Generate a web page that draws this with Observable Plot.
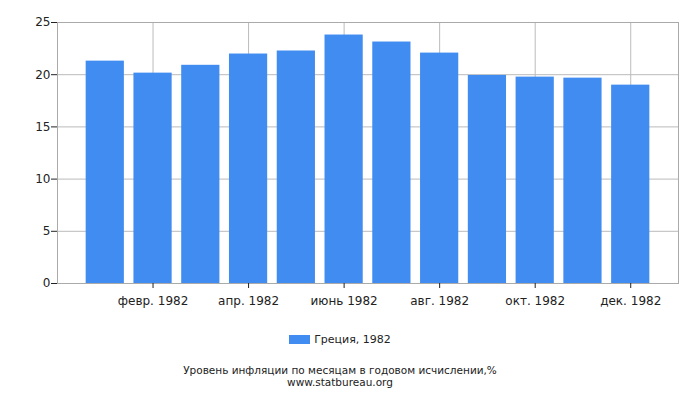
<!DOCTYPE html>
<html><head><meta charset="utf-8">
<script src="https://cdn.jsdelivr.net/npm/d3@7"></script>
<script src="https://cdn.jsdelivr.net/npm/@observablehq/plot@0.6"></script>
<style>
body{margin:0;background:#fff;font-family:"DejaVu Sans",sans-serif;overflow:hidden;}
#wrap{position:relative;width:700px;height:400px;}
#legend{position:absolute;left:0;top:333px;width:680px;text-align:center;font-size:11px;color:#222;}
#legend .sw{display:inline-block;width:21px;height:9px;background:#418CF0;vertical-align:-1px;margin-right:4px;}
.cap{position:absolute;left:0;width:680px;text-align:center;font-size:10.5px;line-height:11px;color:#222;white-space:nowrap;}
</style></head>
<body><div id="wrap"><div id="chart"></div>
<div id="legend"><span class="sw"></span>Греция, 1982</div>
<div class="cap" style="top:365px">Уровень инфляции по месяцам в годовом исчислении,%</div>
<div class="cap" style="top:376.5px">www.statbureau.org</div></div>
<script>
const months = ["янв. 1982","февр. 1982","март 1982","апр. 1982","май 1982","июнь 1982","июль 1982","авг. 1982","сент. 1982","окт. 1982","нояб. 1982","дек. 1982"];
const values = [21.3, 20.15, 20.9, 21.98, 22.27, 23.8, 23.13, 22.07, 19.93, 19.77, 19.67, 19.0];
const xTicks = ["февр. 1982","апр. 1982","июнь 1982","авг. 1982","окт. 1982","дек. 1982"];
const yTicks = [0,5,10,15,20,25];
const data = months.map((m,i)=>({month:m, value:values[i]}));
const chart = Plot.plot({
  width:700, height:315,
  marginTop:22, marginLeft:57, marginRight:22, marginBottom:32,
  style:{fontFamily:"DejaVu Sans, sans-serif", fontSize:"12px", color:"#222", background:"#fff"},
  x:{domain:months, paddingInner:0.2, paddingOuter:0.6, round:false, label:null},
  y:{domain:[0,25], label:null},
  marks:[
    Plot.gridY(yTicks,{stroke:"#bbb", strokeOpacity:1}),
    Plot.gridX(xTicks,{stroke:"#bbb", strokeOpacity:1}),
    Plot.barY(data,{x:"month", y:"value", fill:"#418CF0"}),
    Plot.frame({stroke:"#aaa"}),
    Plot.axisY(yTicks,{tickSize:6, tickPadding:1, fontSize:12}),
    Plot.axisX(xTicks,{tickSize:5, tickPadding:8, fontSize:12})
  ]
});
document.getElementById("chart").appendChild(chart);
</script></body></html>
